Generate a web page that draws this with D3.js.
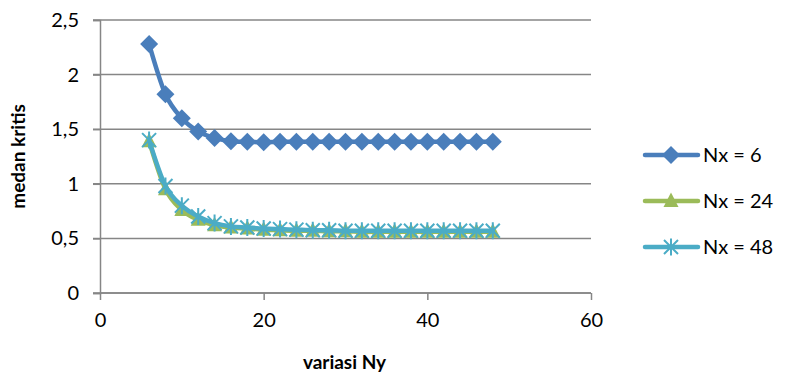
<!DOCTYPE html>
<html lang="id">
<head>
<meta charset="UTF-8">
<title>medan kritis vs variasi Ny</title>
<script src="https://d3js.org/d3.v7.min.js"></script>
<style>
  body { margin: 0; background: #fff; }
  svg { display: block; font-family: Lato, "Open Sans", sans-serif; }
</style>
</head>
<body>
<svg id="grafik" width="785" height="381"></svg>
<script>
// data
const ny = [6, 8, 10, 12, 14, 16, 18, 20, 22, 24, 26, 28, 30, 32, 34, 36, 38, 40, 42, 44, 46, 48];
const nx6 = [2.28, 1.82, 1.60, 1.48, 1.42, 1.39, 1.385, 1.38, 1.385, 1.385, 1.385, 1.385, 1.385, 1.385, 1.385, 1.385, 1.385, 1.385, 1.385, 1.385, 1.385, 1.385];
const nx24 = [1.39, 0.95, 0.76, 0.67, 0.62, 0.60, 0.59, 0.58, 0.575, 0.57, 0.57, 0.565, 0.565, 0.56, 0.56, 0.56, 0.56, 0.56, 0.56, 0.56, 0.56, 0.56];
const nx48 = [1.40, 0.98, 0.80, 0.70, 0.64, 0.61, 0.60, 0.59, 0.585, 0.58, 0.575, 0.575, 0.57, 0.57, 0.57, 0.57, 0.57, 0.57, 0.57, 0.57, 0.57, 0.57];
const namaSeri = ["Nx = 6", "Nx = 24", "Nx = 48"];
const yTicks = [0, 0.5, 1, 1.5, 2, 2.5];
const xTicks = [0, 20, 40, 60];

const svg = d3.select("#grafik");
const kiri = 100, kanan = 591, atas = 20, bawah = 293;

const x = d3.scaleLinear().domain([0, 60]).range([kiri, kanan]);
const y = d3.scaleLinear().domain([0, 2.5]).range([bawah, atas]);

const lokal = d3.formatLocale({ decimal: ",", thousands: ".", grouping: [3], currency: ["", ""] });
const fmt = lokal.format("~g");

const abu = "#868686";

// garis grid
svg.append("g")
  .selectAll("line")
  .data(yTicks)
  .join("line")
  .attr("x1", kiri - 7).attr("x2", kanan)
  .attr("y1", d => y(d)).attr("y2", d => y(d))
  .attr("stroke", abu).attr("stroke-width", 1.5);

// sumbu
const sumbuY = svg.append("g")
  .attr("transform", `translate(${kiri},0)`)
  .call(d3.axisLeft(y).tickValues(yTicks).tickFormat(fmt).tickSize(7).tickPadding(14));
const sumbuX = svg.append("g")
  .attr("transform", `translate(0,${bawah})`)
  .call(d3.axisBottom(x).tickValues(xTicks).tickSize(7).tickPadding(13));

[sumbuY, sumbuX].forEach(g => {
  g.select(".domain").attr("stroke", abu).attr("stroke-width", 1.5);
  g.selectAll(".tick line").attr("stroke", abu).attr("stroke-width", 1.5);
  g.selectAll("text").attr("fill", "#000").style("font-size", "20px").style("font-family", "Lato, sans-serif");
});
sumbuX.select(".domain").attr("d", `M${kiri},0H${kanan}`);

// judul sumbu
svg.append("text")
  .attr("x", (kiri + kanan) / 2 - 1).attr("y", 369)
  .attr("text-anchor", "middle")
  .style("font-size", "19px").style("font-weight", "bold")
  .text("variasi Ny");
svg.append("text")
  .attr("transform", `translate(25,${(atas + bawah) / 2}) rotate(-90)`)
  .attr("text-anchor", "middle")
  .style("font-size", "19px").style("font-weight", "bold")
  .text("medan kritis");

const seri = [
  { nama: namaSeri[0], nilai: nx6, warna: "#4A7EBB", simbol: "diamond" },
  { nama: namaSeri[1], nilai: nx24, warna: "#9BBB59", simbol: "triangle" },
  { nama: namaSeri[2], nilai: nx48, warna: "#4BACC6", simbol: "star" }
];

const garis = d3.line()
  .x(d => x(d[0])).y(d => y(d[1]))
  .curve(d3.curveCatmullRom.alpha(0));

function gambarSimbol(g, jenis, warna) {
  if (jenis === "diamond") {
    g.append("path").attr("d", "M0,-9L9,0L0,9L-9,0Z").attr("fill", warna);
  } else if (jenis === "triangle") {
    g.append("path").attr("d", "M0,-8.5L7.5,6L-7.5,6Z").attr("fill", warna);
  } else {
    const s = 7;
    g.append("path")
      .attr("d", `M${-s},${-s}L${s},${s}M${-s},${s}L${s},${-s}M0,${-s - 1.5}L0,${s + 1.5}`)
      .attr("stroke", warna).attr("stroke-width", 2).attr("fill", "none");
  }
}

seri.forEach(s => {
  const titik = ny.map((v, i) => [v, s.nilai[i]]);
  const g = svg.append("g");
  g.append("path")
    .datum(titik)
    .attr("d", garis)
    .attr("fill", "none")
    .attr("stroke", s.warna)
    .attr("stroke-width", 4.5)
    .attr("stroke-linejoin", "round")
    .attr("stroke-linecap", "round");
  g.selectAll("g.titik")
    .data(titik)
    .join("g")
    .attr("class", "titik")
    .attr("transform", d => `translate(${x(d[0])},${y(d[1])})`)
    .each(function () { gambarSimbol(d3.select(this), s.simbol, s.warna); });
});

// legenda
const legenda = svg.append("g");
seri.forEach((s, i) => {
  const yy = 155 + i * 46;
  const item = legenda.append("g").attr("transform", `translate(0,${yy})`);
  item.append("line")
    .attr("x1", 645).attr("x2", 698)
    .attr("stroke", s.warna).attr("stroke-width", 4.5).attr("stroke-linecap", "round");
  const m = item.append("g").attr("transform", "translate(671,0)");
  gambarSimbol(m, s.simbol, s.warna);
  item.append("text")
    .attr("x", 703).attr("y", 0).attr("dy", "0.35em")
    .style("font-size", "20px")
    .text(s.nama);
});
</script>
</body>
</html>
